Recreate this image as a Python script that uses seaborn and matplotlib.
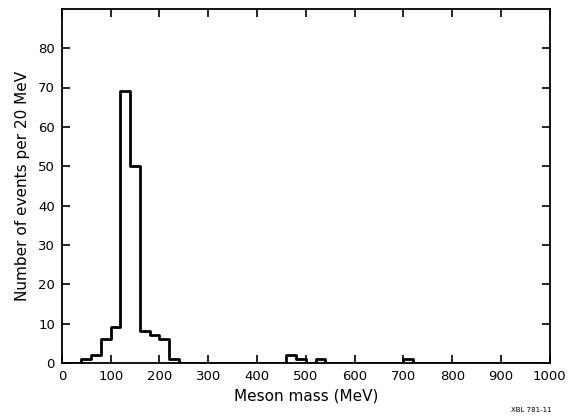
import numpy as np
import pandas as pd
import matplotlib
matplotlib.use("Agg")
import matplotlib.pyplot as plt
import seaborn as sns

# 20 MeV bins
bin_lo = [40, 60, 80, 100, 120, 140, 160, 180, 200, 220, 460, 480, 520, 700]
counts = [1, 2, 6, 9, 69, 50, 8, 7, 6, 1, 2, 1, 1, 1]
x_ticks = [0, 100, 200, 300, 400, 500, 600, 700, 800, 900, 1000]
y_ticks = [0, 10, 20, 30, 40, 50, 60, 70, 80]

sns.set_style("ticks", {"axes.edgecolor": "black", "text.color": "black",
                        "axes.labelcolor": "black", "xtick.color": "black",
                        "ytick.color": "black"})
plt.rcParams['font.family'] = ['DejaVu Sans']

df = pd.DataFrame({"mass": np.array(bin_lo) + 10, "n": counts})

fig = plt.figure(figsize=(5.68, 4.2), dpi=100)
ax = fig.add_axes([0.109, 0.136, 0.859, 0.843])
sns.histplot(data=df, x="mass", weights="n", binwidth=20, binrange=(0, 1000),
             element="step", fill=False, color="black", linewidth=2.0, ax=ax)

ax.set_xlim(0, 1000)
ax.set_ylim(0, 90)
ax.set_xticks(x_ticks)
ax.set_yticks(y_ticks)
ax.tick_params(direction="in", top=True, right=True, length=6, width=1.2,
               labelsize=9.5, pad=5, colors="black")
for s in ax.spines.values():
    s.set_linewidth(1.3)
    s.set_color("black")
    s.set_visible(True)
ax.set_xlabel("Meson mass (MeV)", fontsize=11, labelpad=4, color="black")
ax.set_ylabel("Number of events per 20 MeV", fontsize=11, labelpad=6, color="black")
fig.text(0.935, 0.018, "XBL 781-11", fontsize=5, ha="center", color="black")

fig.savefig("out.png", dpi=100)
